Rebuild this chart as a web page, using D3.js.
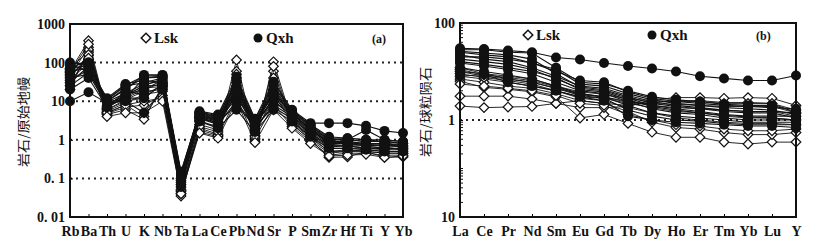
<!DOCTYPE html>
<html>
<head>
<meta charset="utf-8">
<script src="https://cdn.jsdelivr.net/npm/d3@7"></script>
<style>
  body { margin: 0; background: #fff; }
  text { font-family: "Liberation Serif", "DejaVu Serif", serif; font-weight: bold; fill: #111; }
  text.cjk { font-family: "Noto Sans CJK SC", sans-serif; font-weight: normal; }
</style>
</head>
<body>
<script>
// spider diagram (a)
var spiderElems = ['Rb','Ba','Th','U','K','Nb','Ta','La','Ce','Pb','Nd','Sr','P','Sm','Zr','Hf','Ti','Y','Yb'];
var spiderTicks = [1000, 100, 10, 1, 0.1, 0.01];
var spiderTickLabels = ['1000', '100', '10', '1', '0. 1', '0. 01'];

var lskSpider = [
    [60, 370, 5, 8, 4, 22, 0.035, 2, 1.4, 117, 1.0, 105, 3, 1.2, 0.5, 0.55, 0.5, 0.45, 0.45],
    [45, 250, 4.5, 6, 3.4, 25, 0.05, 1.6, 1.2, 60, 0.9, 60, 2.5, 1.0, 0.35, 0.36, 0.5, 0.35, 0.36],
    [70, 200, 6, 10, 12, 28, 0.06, 3, 2.2, 40, 1.6, 40, 3.5, 1.5, 0.7, 0.7, 0.7, 0.6, 0.55],
    [30, 150, 7, 12, 20, 30, 0.08, 3.5, 2.8, 30, 2.0, 20, 4, 1.8, 0.9, 0.9, 0.8, 0.8, 0.7],
    [25, 180, 5.5, 9, 15, 18, 0.045, 2.5, 1.8, 20, 1.3, 15, 2.8, 1.1, 0.5, 0.5, 0.55, 0.5, 0.5],
    [50, 120, 6.5, 14, 25, 26, 0.1, 3.8, 2.5, 15, 1.8, 10, 4.5, 2.0, 1.0, 1.0, 0.9, 0.9, 0.8],
    [35, 100, 4.8, 7, 8, 14, 0.04, 1.8, 1.3, 12, 1.1, 8, 2.2, 0.9, 0.4, 0.45, 0.45, 0.4, 0.4],
    [20, 220, 6, 11, 18, 20, 0.07, 3.2, 2.0, 25, 1.5, 30, 3.2, 1.3, 0.6, 0.6, 0.6, 0.55, 0.6],
    [55, 300, 5, 8, 10, 12, 0.05, 2.2, 1.6, 50, 1.2, 80, 2.6, 1.0, 0.45, 0.5, 0.5, 0.45, 0.45],
    [40, 160, 7.5, 13, 22, 24, 0.09, 4, 3, 18, 2.3, 12, 5, 1.9, 0.8, 0.85, 0.75, 0.7, 0.65],
    [65, 130, 4, 5, 5, 10, 0.04, 1.5, 1.1, 10, 0.85, 6, 2, 0.8, 0.38, 0.4, 0.42, 0.35, 0.38]
];

var qxhSpider = [
    [100, 90, 9, 12, 40, 45, 0.12, 5.5, 4.5, 43, 3.5, 32, 6, 2.7, 2.7, 2.7, 2.3, 1.7, 1.5],
    [80, 100, 10, 20, 48, 48, 0.15, 5, 4, 30, 3, 20, 5.5, 2.5, 1.2, 1.1, 1.0, 1.0, 0.9],
    [60, 70, 11, 25, 30, 40, 0.13, 4.5, 3.5, 20, 2.8, 15, 5, 2.2, 1.0, 1.0, 0.9, 0.9, 0.8],
    [40, 50, 8, 15, 20, 35, 0.1, 4, 3, 15, 2.5, 12, 4.5, 2.0, 0.9, 0.9, 0.8, 0.8, 0.7],
    [30, 80, 12, 28, 35, 30, 0.11, 5, 3.8, 25, 3.2, 18, 4.8, 1.8, 0.8, 0.8, 0.7, 0.7, 0.7],
    [20, 40, 7, 18, 15, 25, 0.08, 3.5, 2.5, 10, 2.0, 8, 4, 1.5, 0.7, 0.7, 0.6, 0.6, 0.6],
    [10, 17, 9, 10, 5, 20, 0.06, 3, 2, 6, 1.6, 6, 3, 1.2, 0.6, 0.6, 0.55, 0.5, 0.5],
    [90, 60, 10, 22, 40, 42, 0.14, 5.2, 4.2, 35, 3.4, 25, 5.8, 2.4, 1.1, 1.1, 1.0, 0.9, 0.85],
    [50, 100, 8.5, 14, 25, 38, 0.09, 4.2, 3.2, 12, 2.6, 10, 4.2, 1.7, 0.75, 0.8, 0.7, 0.75, 0.65],
    [70, 85, 11, 26, 45, 46, 0.12, 4.8, 3.6, 22, 3.0, 14, 5.2, 2.3, 1.0, 1.0, 1.8, 1.0, 0.9],
    [35, 65, 7.5, 12, 12, 28, 0.07, 3.8, 2.8, 8, 2.2, 7, 3.5, 1.4, 0.65, 0.7, 0.6, 0.65, 0.55],
    [25, 55, 9.5, 16, 28, 33, 0.1, 4.4, 3.3, 18, 2.7, 16, 4.6, 1.9, 0.85, 0.85, 0.75, 0.8, 0.75]
];

// REE pattern (b)
var reeElems = ['La','Ce','Pr','Nd','Sm','Eu','Gd','Tb','Dy','Ho','Er','Tm','Yb','Lu','Y'];
var reeTicks = [100, 1, 0.01];
var reeTickLabels = ['100', '1', '10'];

var lskRee = [
    [6.3, 4.7, 4.3, 3.8, 3.0, 1.1, 1.3, 0.85, 0.56, 0.44, 0.44, 0.35, 0.32, 0.35, 0.35],
    [3.1, 3.1, 3.1, 2.7, 2.2, 2.5, 2.2, 2.0, 2.3, 2.5, 2.5, 2.3, 2.3, 2.2, 1.4],
    [1.94, 1.8, 1.85, 1.9, 2.2, 1.8, 1.8, 1.9, 2.6, 2.9, 2.9, 2.8, 2.9, 2.8, 2.0],
    [8, 7, 6, 5, 4, 3, 2.8, 2.2, 1.8, 1.5, 1.4, 1.2, 1.1, 1.1, 1.0],
    [10, 8, 7, 6, 4.5, 3.5, 3, 2.4, 2.0, 1.8, 1.7, 1.6, 1.5, 1.5, 1.2],
    [7, 6, 5, 4.5, 3.5, 2.5, 2.2, 1.5, 0.9, 0.7, 0.65, 0.55, 0.5, 0.5, 0.55],
    [12, 9, 8, 7, 5, 3.8, 3.4, 2.7, 2.5, 2.4, 2.4, 2.2, 2.2, 2.2, 1.6],
    [9, 7.5, 6.5, 5.5, 4, 2.8, 2.5, 1.8, 1.4, 1.1, 1.0, 0.9, 0.85, 0.85, 0.8],
    [5.5, 5, 4.5, 4, 3.2, 2.2, 2.0, 1.3, 1.0, 0.8, 0.75, 0.65, 0.6, 0.6, 0.65],
    [11, 8.5, 7.5, 6.5, 4.8, 3.3, 3, 2.3, 2.2, 2.1, 2.0, 1.9, 1.9, 1.9, 1.4]
];

var qxhRee = [
    [30, 29, 27, 25, 19.5, 17.7, 15, 13, 11.5, 10, 8, 7.2, 6.5, 6.5, 8.3],
    [28, 28, 25, 24, 12, 6, 5.5, 4.0, 3.0, 2.6, 2.4, 2.1, 2.0, 2.0, 1.5],
    [25, 22, 20, 15, 10, 6.5, 6, 3.8, 2.8, 2.4, 2.2, 2.0, 1.9, 1.8, 1.7],
    [22, 18, 16, 12, 8, 5, 4.5, 3.2, 2.4, 2.0, 1.8, 1.6, 1.5, 1.5, 1.4],
    [18, 16, 14, 11, 7, 4.5, 4, 2.8, 2.0, 1.7, 1.5, 1.3, 1.2, 1.2, 1.2],
    [15, 13, 11, 9, 6, 4, 3.5, 2.4, 1.7, 1.4, 1.3, 1.1, 1.0, 1.0, 1.0],
    [12, 10, 8.5, 7, 5, 3.5, 3, 2.0, 1.4, 1.2, 1.1, 1.0, 0.9, 0.9, 0.9],
    [10, 9, 7, 6, 4.5, 3.2, 2.8, 1.6, 1.2, 1.0, 0.95, 0.85, 0.8, 0.8, 0.8],
    [8, 8.7, 6, 5, 4, 3, 2.5, 1.2, 1.0, 0.9, 0.85, 0.8, 0.75, 0.75, 0.7],
    [20, 20, 18, 15, 11, 5.5, 5, 3.5, 2.6, 2.2, 2.0, 1.8, 1.7, 1.6, 1.3],
    [26, 24, 22, 18, 9, 4.8, 4.2, 3.0, 2.2, 1.9, 1.7, 1.5, 1.4, 1.4, 1.1],
    [16, 14, 12, 10, 7.5, 4.2, 3.8, 2.6, 1.9, 1.6, 1.4, 1.25, 1.15, 1.1, 1.0]
];

var svg = d3.select('body').append('svg')
    .attr('width', 833)
    .attr('height', 252);

var diamond = d3.symbol().type(d3.symbolSquare).size(46)();

function panel(opt) {
    var x = d3.scalePoint().domain(opt.elems).range([opt.left, opt.right]);
    var y = d3.scaleLog().domain(opt.domain).range([opt.bottom, opt.top]);
    var g = svg.append('g');

    // dotted grid
    g.selectAll('.grid').data(opt.grid).enter().append('line')
        .attr('x1', opt.left).attr('x2', opt.right)
        .attr('y1', function(d) { return y(d); })
        .attr('y2', function(d) { return y(d); })
        .attr('stroke', '#222').attr('stroke-width', 2)
        .attr('stroke-dasharray', '2,4');

    // minor log ticks on left
    if (opt.minor) {
        var minor = y.ticks().filter(function(v) { return opt.grid.indexOf(v) < 0; });
        g.selectAll('.minor').data(minor).enter().append('line')
            .attr('x1', opt.left).attr('x2', opt.left + 3)
            .attr('y1', function(d) { return y(d); })
            .attr('y2', function(d) { return y(d); })
            .attr('stroke', '#111');
    }

    var line = d3.line()
        .x(function(d, i) { return x(opt.elems[i]); })
        .y(function(d) { return y(d); });

    // lsk
    var lsk = g.selectAll('.lsk').data(opt.lsk).enter().append('g');
    lsk.append('path').attr('d', line)
        .attr('fill', 'none').attr('stroke', '#111').attr('stroke-width', 0.9);
    lsk.selectAll('path.m').data(function(d) { return d; }).enter().append('path')
        .attr('class', 'm')
        .attr('d', diamond)
        .attr('transform', function(d, i) { return 'translate(' + x(opt.elems[i]) + ',' + y(d) + ') rotate(45)'; })
        .attr('fill', '#fff').attr('stroke', '#111').attr('stroke-width', 1.2);

    // qxh
    var qxh = g.selectAll('.qxh').data(opt.qxh).enter().append('g');
    qxh.append('path').attr('d', line)
        .attr('fill', 'none').attr('stroke', '#111').attr('stroke-width', 1.1);
    qxh.selectAll('circle').data(function(d) { return d; }).enter().append('circle')
        .attr('cx', function(d, i) { return x(opt.elems[i]); })
        .attr('cy', function(d) { return y(d); })
        .attr('r', 5)
        .attr('fill', '#111');

    // axes
    var yAxis = d3.axisLeft(y)
        .tickValues(opt.ticks)
        .tickFormat(function(d, i) { return opt.tickLabels[i]; })
        .tickSize(-3).tickPadding(5);
    var ya = g.append('g').attr('transform', 'translate(' + opt.left + ',0)').call(yAxis);
    ya.select('.domain').remove();
    ya.selectAll('text').attr('font-size', 14).attr('fill', '#111');

    var xAxis = d3.axisBottom(x).tickSize(-3).tickPadding(9);
    var xa = g.append('g').attr('transform', 'translate(0,' + opt.bottom + ')').call(xAxis);
    xa.select('.domain').remove();
    xa.selectAll('text').attr('font-size', 14).attr('fill', '#111');

    // frame
    g.append('rect')
        .attr('x', opt.left).attr('y', opt.top)
        .attr('width', opt.right - opt.left).attr('height', opt.bottom - opt.top)
        .attr('fill', 'none').attr('stroke', '#111').attr('stroke-width', 2);

    // legend
    g.append('path').attr('d', diamond)
        .attr('transform', 'translate(' + opt.legLsk + ',' + opt.legY + ') rotate(45)')
        .attr('fill', '#fff').attr('stroke', '#111').attr('stroke-width', 1.5);
    g.append('text').attr('x', opt.legLsk + 8).attr('y', opt.legY + 5)
        .attr('font-size', 15).text('Lsk');
    g.append('circle').attr('cx', opt.legQxh).attr('cy', opt.legY).attr('r', 4.5).attr('fill', '#111');
    g.append('text').attr('x', opt.legQxh + 8).attr('y', opt.legY + 5)
        .attr('font-size', 15).text('Qxh');
    g.append('text').attr('x', opt.tagX).attr('y', opt.legY + 5)
        .attr('font-size', 12).text(opt.tag);

    // y title
    g.append('text').attr('class', 'cjk')
        .attr('transform', 'translate(' + opt.titleX + ',' + opt.titleY + ') rotate(-90)')
        .attr('text-anchor', 'middle')
        .attr('font-size', 13)
        .attr('textLength', opt.titleLen)
        .attr('lengthAdjust', 'spacingAndGlyphs')
        .text(opt.title);
}

panel({
    elems: spiderElems, lsk: lskSpider, qxh: qxhSpider,
    domain: [0.01, 1000], ticks: spiderTicks, tickLabels: spiderTickLabels,
    grid: [100, 10, 1, 0.1], minor: false,
    left: 70, right: 403, top: 24, bottom: 217,
    legLsk: 146, legQxh: 258, legY: 38, tagX: 372, tag: '(a)',
    title: '岩石/原始地幔', titleX: 28, titleY: 122, titleLen: 90
});

panel({
    elems: reeElems, lsk: lskRee, qxh: qxhRee,
    domain: [0.01, 100], ticks: reeTicks, tickLabels: reeTickLabels,
    grid: [1], minor: true,
    left: 460, right: 796, top: 23, bottom: 217,
    legLsk: 528, legQxh: 652, legY: 35, tagX: 756, tag: '(b)',
    title: '岩石/球粒陨石', titleX: 430, titleY: 112, titleLen: 90
});
</script>
</body>
</html>
